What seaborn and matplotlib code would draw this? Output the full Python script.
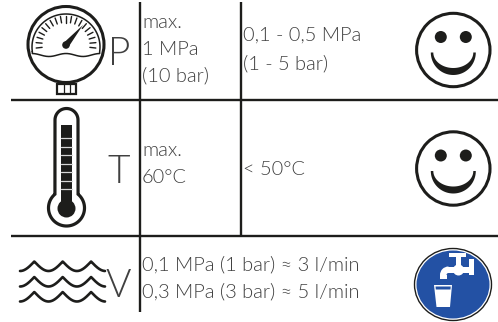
import matplotlib
matplotlib.use("Agg")
import matplotlib.pyplot as plt
import matplotlib.patches as mp
import numpy as np
import seaborn as sns

# table text
p_max = ["max.", "1 MPa", "(10 bar)"]
p_rec = ["0,1 - 0,5 MPa", "(1 - 5 bar)"]
t_max = ["max.", "60°C"]
t_rec = ["< 50°C"]
v_rows = ["0,1 MPa (1 bar) ≈ 3 l/min", "0,3 MPa (3 bar) ≈ 5 l/min"]
letters = ["P", "T", "V"]

INK = "#1d1d1b"
TXT = "#404040"
BLUE = "#2351a4"

sns.set_theme(style="white")
plt.rcParams["font.family"] = ["Lato", "DejaVu Sans"]

fig = plt.figure(figsize=(4.98, 3.22), dpi=100)
ax = fig.add_axes([0, 0, 1, 1])
ax.set_xlim(0, 498)
ax.set_ylim(322, 0)
ax.axis("off")

# grid
for y in [100, 236]:
    ax.plot([11, 498], [y, y], color=INK, lw=1.7, solid_capstyle="butt")
ax.plot([139.5, 139.5], [2, 312], color=INK, lw=1.7, solid_capstyle="butt")
ax.plot([240.5, 240.5], [2, 236], color=INK, lw=1.7, solid_capstyle="butt")


def label(x, y, s, size=14.4):
    ax.text(x, y, s, fontsize=size, color=TXT, fontweight=300, va="baseline", ha="left")


for y, s in zip([28, 55, 81], p_max):
    label(142, y, s)
for y, s in zip([41, 69], p_rec):
    label(243, y, s)
for y, s in zip([156, 183], t_max):
    label(142, y, s)
label(243, 175, t_rec[0])
for y, s in zip([270.5, 297.5], v_rows):
    label(142, y, s)

for x, y, s in zip([108, 107.5, 105.5], [65, 183, 297], letters):
    ax.text(x, y, s, fontsize=28, color=TXT, fontweight=300, va="baseline", ha="left")

# gauge
ax.add_patch(mp.Circle((66, 44.5), 38, fc="white", ec=INK, lw=2.2))
ax.add_patch(mp.Rectangle((57, 84), 19, 10, fc="white", ec=INK, lw=1.6))
ax.plot([63.5, 63.5], [84, 94], color=INK, lw=0.9)
ax.plot([69.5, 69.5], [84, 94], color=INK, lw=0.9)
a = np.radians(np.linspace(188, -8, 60))
arc_x = 66 + 34 * np.cos(a)
arc_y = 47 - 33 * np.sin(a)
low_x = np.linspace(arc_x[-1], arc_x[0], 30)
low_y = 55 - 1.5 * np.cos((low_x - 66) / 17 * np.pi)
ax.plot(np.r_[arc_x, low_x, arc_x[0]], np.r_[arc_y, low_y, arc_y[0]], color=INK, lw=1.1)
for d in np.linspace(186, -6, 19):
    r = np.radians(d)
    ax.plot([66 + 24 * np.cos(r), 66 + 30 * np.cos(r)],
            [45 - 22.5 * np.sin(r), 45 - 29 * np.sin(r)], color=INK, lw=1.0)
ax.add_patch(mp.Circle((66, 45), 3.8, fc=INK, ec="none"))
ax.add_patch(mp.Polygon([(63.5, 43), (68.5, 47), (83, 25)], fc=INK, ec="none"))

# thermometer
t = np.radians(np.linspace(50, -230, 90))
top = np.radians(np.linspace(180, 0, 30))
tube_x = np.r_[66.5 + 18 * np.cos(t), 66.5 + 11.5 * np.cos(top)]
tube_y = np.r_[208 - 18 * np.sin(t), 120 - 11.5 * np.sin(top)]
ax.add_patch(mp.Polygon(np.c_[tube_x, tube_y], closed=True, fc="white", ec=INK, lw=2.3))
ax.add_patch(mp.Circle((66.5, 208.5), 9, fc=INK, ec="none"))
ax.add_patch(mp.Rectangle((60.5, 125), 11.5, 80, fc=INK, ec="none"))
for y in [138, 147, 155, 164, 172, 181, 189]:
    ax.plot([60.5, 72], [y, y], color="#d8d8d8", lw=0.9)

# waves, pointed crests and round troughs
for crest in [261.5, 277, 292]:
    xs = np.linspace(20, 105, 300)
    ys = crest + 9.5 * np.abs(np.sin((xs - 34.3) / 28.4 * np.pi))
    ax.plot(xs, ys, color=INK, lw=1.9)


# smileys
def smiley(cx, cy):
    ax.add_patch(mp.Circle((cx, cy), 36.7, fc="white", ec=INK, lw=2.2))
    ax.add_patch(mp.Circle((cx - 12.5, cy - 13), 6, fc=INK, ec="none"))
    ax.add_patch(mp.Circle((cx + 12.5, cy - 13), 6, fc=INK, ec="none"))
    th = np.linspace(np.pi, 0, 50)
    outer = np.c_[cx + 22.5 * np.cos(th), cy + 2.5 + 22.5 * np.sin(th)]
    inner = np.c_[cx + 20 * np.cos(th[::-1]), cy + 2.5 + 15.5 * np.sin(th[::-1])]
    ax.add_patch(mp.Polygon(np.r_[outer, inner], fc=INK, ec="none"))


smiley(453.3, 50)
smiley(453.3, 168.5)

# drinking water sign
ax.add_patch(mp.Ellipse((453, 284.5), 77, 72, fc="white", ec=INK, lw=1))
ax.add_patch(mp.Ellipse((453, 284.5), 73, 68, fc=BLUE, ec="none"))
ax.add_patch(mp.Rectangle((449, 253), 17, 4, fc="white", ec="none"))
ax.add_patch(mp.Rectangle((456, 253), 5, 16, fc="white", ec="none"))
ax.add_patch(mp.Rectangle((469, 259), 5, 16, fc="white", ec="none"))
ax.add_patch(mp.Rectangle((448, 267), 22, 5.5, fc="white", ec="none"))
ax.add_patch(mp.Circle((458.5, 270), 5.5, fc="white", ec="none"))
ax.add_patch(mp.Wedge((448.5, 275), 8.5, 180, 270, width=6.5, fc="white", ec="none"))
ax.add_patch(mp.Rectangle((440, 275), 6.5, 3.5, fc="white", ec="none"))
ax.add_patch(mp.Polygon([(434, 285), (452, 285), (450, 307), (436.5, 307)], fc="white", ec="none"))
ax.add_patch(mp.Polygon([(435.5, 286.5), (450.7, 286.5), (450.5, 289.5), (435.8, 289.5)], fc=BLUE, ec="none"))

fig.savefig("out.png", dpi=100)
